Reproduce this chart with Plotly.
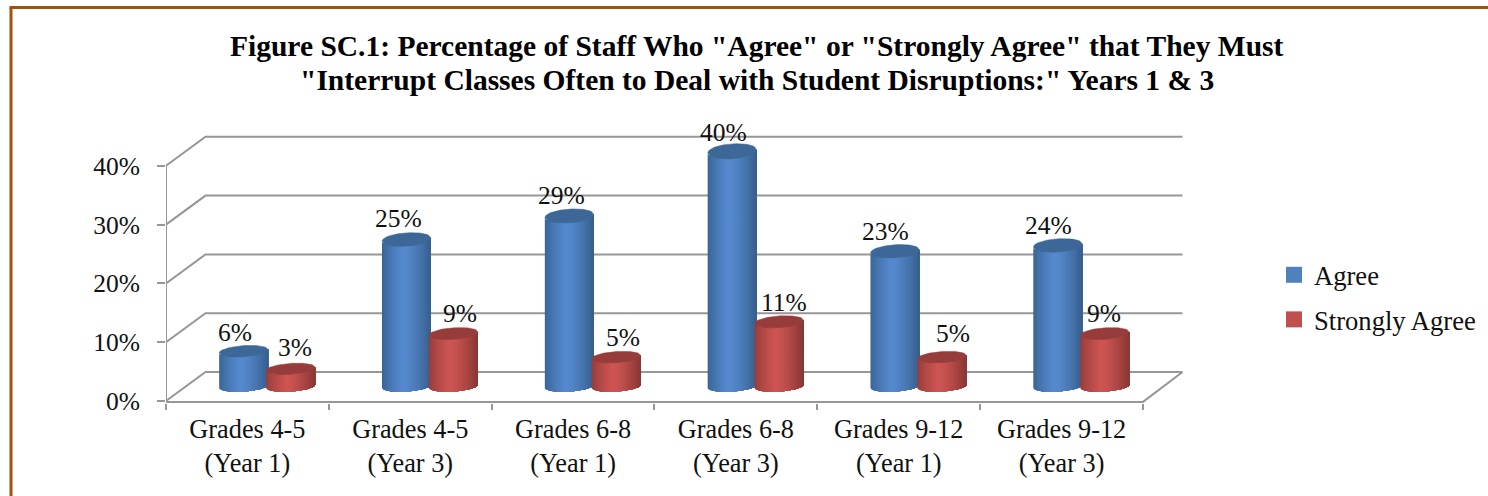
import plotly.graph_objects as go

# Chart content
title_lines = ['Figure SC.1: Percentage of Staff Who "Agree" or "Strongly Agree" that They Must',
               '"Interrupt Classes Often to Deal with Student Disruptions:" Years 1 &amp; 3']
categories = ["Grades 4-5<br>(Year 1)", "Grades 4-5<br>(Year 3)", "Grades 6-8<br>(Year 1)",
              "Grades 6-8<br>(Year 3)", "Grades 9-12<br>(Year 1)", "Grades 9-12<br>(Year 3)"]
agree = [6, 25, 29, 40, 23, 24]
strongly_agree = [3, 9, 5, 11, 5, 9]
y_ticks = [0, 10, 20, 30, 40]

# Pixel scale of the front plane of the chart box
PX_LEFT, PX_RIGHT, PX_TOP, PX_BOTTOM = 166, 1190, 130, 403
PX_PER_CAT = 162.83
PX_ZERO = 401
PX_PER_UNIT = 5.88
PAPER_W = 1488 - PX_LEFT
X_MAX = (PX_RIGHT - PX_LEFT) / PX_PER_CAT
Y_MIN = (PX_ZERO - PX_BOTTOM) / PX_PER_UNIT
Y_MAX = (PX_ZERO - PX_TOP) / PX_PER_UNIT

# Oblique depth of the box, in axis units
DEPTH_X = 39.5 / PX_PER_CAT
DEPTH_Y = 29.0 / PX_PER_UNIT

# Cylinder proportions
HALF_W = 24.5 / PX_PER_CAT
SERIES_OFFSET = 23.5 / PX_PER_CAT
TILT = 1.6 / PX_PER_UNIT
BASE_B = 5.0 / PX_PER_UNIT
N_STRIPS = 40

GRID = "#979797"
FONT = "Liberation Serif"
FRAME = "#A2520E"
TEXT = "#111111"


def mix(c0, c1, t):
    return "rgb({},{},{})".format(*[round(a + (b - a) * t) for a, b in zip(c0, c1)])


def shade(u, left, peak, right):
    # brightest a little left of centre, falling off towards both edges
    p = 0.42
    if u < p:
        return mix(left, peak, (u / p) ** 0.75)
    return mix(peak, right, ((u - p) / (1 - p)) ** 1.4)


def lower_arc(cx, y0, b, c):
    return cx + HALF_W * c, y0 + TILT * c - b * (max(0.0, 1 - c * c)) ** 0.5


def top_b(v):
    return (5.3 + 0.055 * v) / PX_PER_UNIT


def cylinder_traces(values, offset, name, left, peak, right, cap):
    traces = []
    centers = [i + 0.5 + DEPTH_X / 2 + offset for i in range(len(values))]
    base = DEPTH_Y / 2
    for s in range(N_STRIPS):
        # each strip runs on to the right edge, so the next one paints over it without a seam
        c0 = -1 + 2 * s / N_STRIPS
        steps = max(2, (N_STRIPS - s))
        cs = [c0 + (1 - c0) * k / steps for k in range(steps + 1)]
        if s == 0:
            cs = [-1 + 0.002 * k for k in range(6)] + cs[1:]
        xs, ys = [], []
        for cx, v in zip(centers, values):
            upper = [lower_arc(cx, base + v, top_b(v), c) for c in cs]
            lower = [lower_arc(cx, base, BASE_B, c) for c in reversed(cs)]
            poly = upper + lower + upper[:1]
            xs += [p[0] for p in poly] + [None]
            ys += [p[1] for p in poly] + [None]
        color = shade((s + 0.5) / N_STRIPS, left, peak, right)
        traces.append(go.Scatter(x=xs, y=ys, mode="lines", fill="toself", fillcolor=color,
                                 line=dict(width=0), hoverinfo="skip",
                                 showlegend=False, name=name))
    # top faces
    xs, ys = [], []
    for cx, v in zip(centers, values):
        b = top_b(v)
        cs = [-1 + 2 * k / 40 for k in range(41)]
        low = [lower_arc(cx, base + v, b, c) for c in cs]
        high = [(cx + HALF_W * c, base + v + TILT * c + b * (max(0.0, 1 - c * c)) ** 0.5)
                for c in reversed(cs)]
        poly = low + high + low[:1]
        xs += [p[0] for p in poly] + [None]
        ys += [p[1] for p in poly] + [None]
    traces.append(go.Scatter(x=xs, y=ys, mode="lines", fill="toself", fillcolor=cap,
                             line=dict(color=cap, width=0.5), hoverinfo="skip",
                             showlegend=False, name=name))
    return traces


fig = go.Figure()

# Box edges: back wall gridlines, left wall diagonals, floor outline
gx, gy = [], []
for t in y_ticks:
    gx += [0, DEPTH_X, 6 + DEPTH_X, None]
    gy += [t, t + DEPTH_Y, t + DEPTH_Y, None]
gx += [0, 0, None, 0, 6, 6 + DEPTH_X]
gy += [0, 40, None, -0.15, -0.15, DEPTH_Y]
fig.add_trace(go.Scatter(x=gx, y=gy, mode="lines", line=dict(color=GRID, width=2),
                         hoverinfo="skip", showlegend=False, cliponaxis=False))

for tr in cylinder_traces(agree, -SERIES_OFFSET, "Agree",
                          (56, 98, 146), (86, 138, 208), (54, 94, 140), "#3D6796"):
    fig.add_trace(tr)
for tr in cylinder_traces(strongly_agree, SERIES_OFFSET, "Strongly Agree",
                          (146, 60, 58), (206, 85, 83), (134, 54, 52), "#963D3B"):
    fig.add_trace(tr)

# Legend keys
for label, color, group in [("Agree", "#4F81BD", "a"), ("Strongly Agree", "#C0504D", "b")]:
    fig.add_trace(go.Scatter(x=[None], y=[None], mode="markers", name=label, legendgroup=group,
                             marker=dict(symbol="square", size=16, color=color)))

# Value labels sit above each cylinder; shifts are in pixels
agree_shift = [(-9, -19), (-8, -21), (-8, -20), (-9, -19), (-9, -20), (-9, -20)]
strong_shift = [(4, -21), (6, -20), (7, -20), (5, -19), (11, -24), (-1, -20)]
annotations = []
for values, offset, shifts in [(agree, -SERIES_OFFSET, agree_shift),
                               (strongly_agree, SERIES_OFFSET, strong_shift)]:
    for i, (v, (dx, dy)) in enumerate(zip(values, shifts)):
        annotations.append(dict(x=i + 0.5 + DEPTH_X / 2 + offset, y=v + DEPTH_Y / 2, xref="x", yref="y",
                                text=f"{v}%", showarrow=False, xshift=dx, yshift=-dy,
                                xanchor="center", yanchor="middle",
                                font=dict(family=FONT, size=25.5, color=TEXT)))


def paper_x(px):
    return (px - PX_LEFT) / PAPER_W


def paper_y(py):
    return (PX_BOTTOM - py) / (PX_BOTTOM - PX_TOP)


# Two title lines, set closer together than the default line height
for line, cy in zip(title_lines, [46, 80]):
    annotations.append(dict(x=paper_x(757), y=paper_y(cy), xref="paper", yref="paper", text=f"<b>{line}</b>",
                            showarrow=False, xanchor="center", yanchor="middle",
                            font=dict(family=FONT, size=29.5, color="#000000")))

frame = dict(type="line", xref="paper", yref="paper", layer="above",
             line=dict(color=FRAME, width=3))
shapes = [
    dict(frame, x0=paper_x(11), x1=paper_x(11), y0=paper_y(7.5), y1=paper_y(496)),
    dict(frame, x0=paper_x(9.5), x1=paper_x(1488), y0=paper_y(7.5), y1=paper_y(7.5)),
]

fig.update_layout(
    width=1488, height=496, autosize=False,
    margin=dict(l=PX_LEFT, r=0, t=PX_TOP, b=496 - PX_BOTTOM, pad=0),
    paper_bgcolor="white", plot_bgcolor="white",
    font=dict(family=FONT, size=25, color=TEXT),
    xaxis=dict(domain=[0, (PX_RIGHT - PX_LEFT) / PAPER_W], range=[0, X_MAX], tickmode="array",
               tickvals=[i + 0.5 for i in range(len(categories))], ticktext=categories,
               ticks="", showgrid=False, zeroline=False, showline=False, tickangle=0,
               ticklabelstandoff=8,
               tickfont=dict(family=FONT, size=26.3, color=TEXT),
               minor=dict(tickmode="array", tickvals=list(range(7)), ticks="outside",
                          ticklen=6, tickwidth=2, tickcolor=GRID, showgrid=False)),
    yaxis=dict(range=[Y_MIN, Y_MAX], tickmode="array", tickvals=y_ticks,
               ticktext=[f"{t}%" for t in y_ticks], ticks="outside", ticklen=8, tickwidth=2,
               tickcolor=GRID, showgrid=False, zeroline=False, showline=False,
               ticklabelstandoff=12, tickfont=dict(family=FONT, size=25.5, color=TEXT)),
    legend=dict(x=paper_x(1274), y=paper_y(251), xanchor="left", yanchor="top",
                tracegroupgap=7, bgcolor="rgba(0,0,0,0)", entrywidth=162, entrywidthmode="pixels",
                font=dict(family=FONT, size=26.6, color=TEXT)),
    showlegend=True,
    annotations=annotations,
    shapes=shapes,
)

fig.write_html("out.html")
